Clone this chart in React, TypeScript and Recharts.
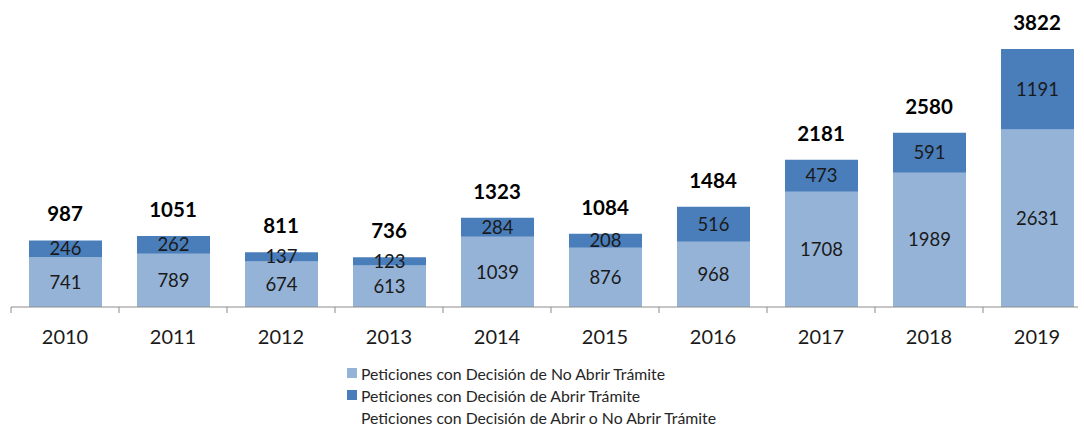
import { Bar, ComposedChart, LabelList, Legend, Line, XAxis, YAxis } from "recharts";

// data
const years = ["2010", "2011", "2012", "2013", "2014", "2015", "2016", "2017", "2018", "2019"];
const noAbrir = [741, 789, 674, 613, 1039, 876, 968, 1708, 1989, 2631];
const abrir = [246, 262, 137, 123, 284, 208, 516, 473, 591, 1191];
const totals = [987, 1051, 811, 736, 1323, 1084, 1484, 2181, 2580, 3822];

const LIGHT = "#95B3D7";
const DARK = "#4A7EBB";
const AXIS = "#8c8c8c";
const FONT = "Lato, 'Noto Sans', sans-serif";

const data = years.map((year, i) => ({
  year,
  noAbrir: noAbrir[i],
  abrir: abrir[i],
  total: totals[i],
}));

const W = 1084;
const H = 427;
// the plot runs a little past the right edge, like the cropped original
const CHART_W = 1091;
const MARGIN = { top: 37, right: 0, left: 11, bottom: 7 };
const STEP = (CHART_W - MARGIN.left - MARGIN.right) / years.length;
const AXIS_END = 1078;

// Excel-style axis: tick marks sit between categories, label at the centre
function YearTick(props: any) {
  const { x, y, payload, index } = props;
  const left = x - STEP / 2;
  const right = Math.min(x + STEP / 2, AXIS_END);
  return (
    <g>
      <line x1={left} y1={y} x2={right} y2={y} stroke={AXIS} />
      <line x1={left} y1={y} x2={left} y2={y + 6} stroke={AXIS} />
      <text x={x} y={y + 37} textAnchor="middle" fontSize={20} fill="#1a1a1a" fontFamily={FONT}>
        {payload.value}
      </text>
    </g>
  );
}

const legendItems = [
  { label: "Peticiones con Decisión de No Abrir Trámite", color: LIGHT },
  { label: "Peticiones con Decisión de Abrir Trámite", color: DARK },
  { label: "Peticiones con Decisión de Abrir o No Abrir Trámite", color: null },
];

function LegendBox() {
  return (
    <div style={{ height: 63, fontFamily: FONT, fontSize: 15.8, color: "#262626" }}>
      {legendItems.map((item) => (
        <div key={item.label} style={{ height: 22, display: "flex", alignItems: "center", whiteSpace: "nowrap" }}>
          <span
            style={{
              width: 10,
              height: 10,
              marginRight: 4,
              background: item.color ?? "transparent",
              display: "inline-block",
            }}
          />
          {item.label}
        </div>
      ))}
    </div>
  );
}

export default function App() {
  return (
    <div
      style={{
        position: "absolute",
        left: 0,
        top: 0,
        width: W,
        height: H,
        overflow: "hidden",
        background: "#fff",
      }}
    >
      <ComposedChart width={CHART_W} height={H} data={data} margin={MARGIN}>
        <XAxis
          dataKey="year"
          height={50}
          axisLine={false}
          tickLine={false}
          tickSize={0}
          tickMargin={0}
          tick={<YearTick />}
          interval={0}
        />
        <YAxis hide domain={[0, 4000]} />
        <Legend
          verticalAlign="bottom"
          content={<LegendBox />}
          wrapperStyle={{ top: 362, left: 347, width: 460 }}
        />
        <Bar dataKey="noAbrir" stackId="a" fill={LIGHT} barSize={73} isAnimationActive={false}>
          <LabelList dataKey="noAbrir" position="center" fontSize={18.5} fill="#1a1a1a" fontFamily={FONT} />
        </Bar>
        <Bar dataKey="abrir" stackId="a" fill={DARK} barSize={73} isAnimationActive={false}>
          <LabelList dataKey="abrir" position="center" fontSize={18.5} fill="#1a1a1a" fontFamily={FONT} />
        </Bar>
        <Line dataKey="total" stroke="none" dot={false} activeDot={false} isAnimationActive={false}>
          <LabelList
            dataKey="total"
            position="top"
            offset={19}
            fontSize={20.5}
            fontWeight="bold"
            fill="#000"
            fontFamily={FONT}
          />
        </Line>
      </ComposedChart>
    </div>
  );
}
